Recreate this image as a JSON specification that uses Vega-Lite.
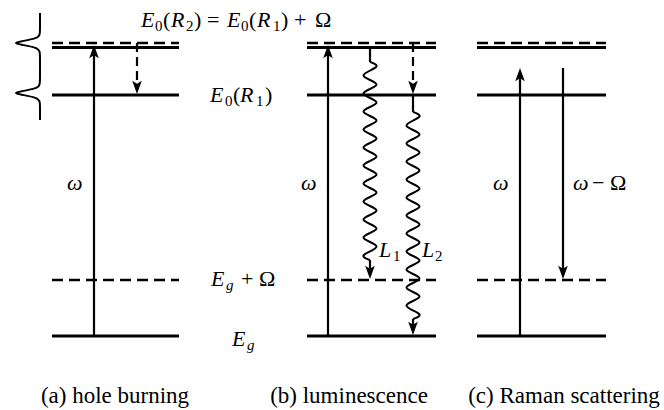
{
  "$schema": "https://vega.github.io/schema/vega-lite/v6.json",
  "width": 664,
  "height": 410,
  "autosize": {"type": "fit", "contains": "padding"},
  "padding": 0,
  "background": "white",
  "config": {"view": {"stroke": null}},
  "datasets": {
    "segments": [
      {"kind": "lvl", "x1": 52, "x2": 179, "y1": 47.5, "y2": 47.5},
      {"kind": "lvl", "x1": 52, "x2": 179, "y1": 95, "y2": 95},
      {"kind": "lvl", "x1": 52, "x2": 179, "y1": 336, "y2": 336},
      {"kind": "lvl", "x1": 307, "x2": 436, "y1": 47.5, "y2": 47.5},
      {"kind": "lvl", "x1": 307, "x2": 436, "y1": 95, "y2": 95},
      {"kind": "lvl", "x1": 307, "x2": 436, "y1": 336, "y2": 336},
      {"kind": "lvl", "x1": 477, "x2": 606, "y1": 47.5, "y2": 47.5},
      {"kind": "lvl", "x1": 477, "x2": 606, "y1": 95, "y2": 95},
      {"kind": "lvl", "x1": 477, "x2": 606, "y1": 336, "y2": 336},
      {"kind": "dlvl", "x1": 52, "x2": 179, "y1": 43, "y2": 43},
      {"kind": "dlvl", "x1": 52, "x2": 179, "y1": 280, "y2": 280},
      {"kind": "dlvl", "x1": 307, "x2": 436, "y1": 43, "y2": 43},
      {"kind": "dlvl", "x1": 307, "x2": 436, "y1": 280, "y2": 280},
      {"kind": "dlvl", "x1": 477, "x2": 606, "y1": 43, "y2": 43},
      {"kind": "dlvl", "x1": 477, "x2": 606, "y1": 280, "y2": 280},
      {"kind": "arr", "x1": 94, "x2": 94, "y1": 336, "y2": 55},
      {"kind": "arr", "x1": 328, "x2": 328, "y1": 336, "y2": 55},
      {"kind": "arr", "x1": 520, "x2": 520, "y1": 336, "y2": 78},
      {"kind": "arr", "x1": 563, "x2": 563, "y1": 68, "y2": 269},
      {"kind": "arr", "x1": 370, "x2": 370, "y1": 47.5, "y2": 62},
      {"kind": "arr", "x1": 370, "x2": 370, "y1": 260, "y2": 269},
      {"kind": "arr", "x1": 413, "x2": 413, "y1": 95, "y2": 112},
      {"kind": "arr", "x1": 413, "x2": 413, "y1": 319, "y2": 325},
      {"kind": "darr", "x1": 137, "x2": 137, "y1": 43, "y2": 84},
      {"kind": "darr", "x1": 413, "x2": 413, "y1": 43, "y2": 84}
    ],
    "heads": [
      {"dir": "up", "x": 94, "y": 45},
      {"dir": "up", "x": 328, "y": 45},
      {"dir": "up", "x": 520, "y": 68},
      {"dir": "down", "x": 563, "y": 279},
      {"dir": "down", "x": 370, "y": 279},
      {"dir": "down", "x": 413, "y": 335},
      {"dir": "down", "x": 137, "y": 94},
      {"dir": "down", "x": 413, "y": 94}
    ],
    "waves": [
      {"id": "L1", "o": 0, "x": 370, "y": 62},
      {"id": "L1", "o": 1, "x": 376.5, "y": 66.5},
      {"id": "L1", "o": 2, "x": 363.5, "y": 75.5},
      {"id": "L1", "o": 3, "x": 376.5, "y": 84.5},
      {"id": "L1", "o": 4, "x": 363.5, "y": 93.5},
      {"id": "L1", "o": 5, "x": 376.5, "y": 102.5},
      {"id": "L1", "o": 6, "x": 363.5, "y": 111.5},
      {"id": "L1", "o": 7, "x": 376.5, "y": 120.5},
      {"id": "L1", "o": 8, "x": 363.5, "y": 129.5},
      {"id": "L1", "o": 9, "x": 376.5, "y": 138.5},
      {"id": "L1", "o": 10, "x": 363.5, "y": 147.5},
      {"id": "L1", "o": 11, "x": 376.5, "y": 156.5},
      {"id": "L1", "o": 12, "x": 363.5, "y": 165.5},
      {"id": "L1", "o": 13, "x": 376.5, "y": 174.5},
      {"id": "L1", "o": 14, "x": 363.5, "y": 183.5},
      {"id": "L1", "o": 15, "x": 376.5, "y": 192.5},
      {"id": "L1", "o": 16, "x": 363.5, "y": 201.5},
      {"id": "L1", "o": 17, "x": 376.5, "y": 210.5},
      {"id": "L1", "o": 18, "x": 363.5, "y": 219.5},
      {"id": "L1", "o": 19, "x": 376.5, "y": 228.5},
      {"id": "L1", "o": 20, "x": 363.5, "y": 237.5},
      {"id": "L1", "o": 21, "x": 376.5, "y": 246.5},
      {"id": "L1", "o": 22, "x": 363.5, "y": 255.5},
      {"id": "L1", "o": 23, "x": 370, "y": 260},
      {"id": "L2", "o": 0, "x": 413, "y": 112},
      {"id": "L2", "o": 1, "x": 419.5, "y": 116.5},
      {"id": "L2", "o": 2, "x": 406.5, "y": 125.5},
      {"id": "L2", "o": 3, "x": 419.5, "y": 134.5},
      {"id": "L2", "o": 4, "x": 406.5, "y": 143.5},
      {"id": "L2", "o": 5, "x": 419.5, "y": 152.5},
      {"id": "L2", "o": 6, "x": 406.5, "y": 161.5},
      {"id": "L2", "o": 7, "x": 419.5, "y": 170.5},
      {"id": "L2", "o": 8, "x": 406.5, "y": 179.5},
      {"id": "L2", "o": 9, "x": 419.5, "y": 188.5},
      {"id": "L2", "o": 10, "x": 406.5, "y": 197.5},
      {"id": "L2", "o": 11, "x": 419.5, "y": 206.5},
      {"id": "L2", "o": 12, "x": 406.5, "y": 215.5},
      {"id": "L2", "o": 13, "x": 419.5, "y": 224.5},
      {"id": "L2", "o": 14, "x": 406.5, "y": 233.5},
      {"id": "L2", "o": 15, "x": 419.5, "y": 242.5},
      {"id": "L2", "o": 16, "x": 406.5, "y": 251.5},
      {"id": "L2", "o": 17, "x": 419.5, "y": 260.5},
      {"id": "L2", "o": 18, "x": 406.5, "y": 269.5},
      {"id": "L2", "o": 19, "x": 419.5, "y": 278.5},
      {"id": "L2", "o": 20, "x": 406.5, "y": 287.5},
      {"id": "L2", "o": 21, "x": 419.5, "y": 296.5},
      {"id": "L2", "o": 22, "x": 406.5, "y": 305.5},
      {"id": "L2", "o": 23, "x": 419.5, "y": 314.5},
      {"id": "L2", "o": 24, "x": 413, "y": 319}
    ],
    "bracket": [
      {"o": 0, "x": 40, "y": 13},
      {"o": 1, "x": 40, "y": 28},
      {"o": 2, "x": 40, "y": 35},
      {"o": 3, "x": 37, "y": 38.5},
      {"o": 4, "x": 20, "y": 41.5},
      {"o": 5, "x": 14, "y": 43},
      {"o": 6, "x": 20, "y": 44.5},
      {"o": 7, "x": 37, "y": 47.5},
      {"o": 8, "x": 40, "y": 51},
      {"o": 9, "x": 40, "y": 58},
      {"o": 10, "x": 40, "y": 78},
      {"o": 11, "x": 40, "y": 85},
      {"o": 12, "x": 37, "y": 88.5},
      {"o": 13, "x": 20, "y": 91.5},
      {"o": 14, "x": 14, "y": 93},
      {"o": 15, "x": 20, "y": 94.5},
      {"o": 16, "x": 37, "y": 97.5},
      {"o": 17, "x": 40, "y": 101},
      {"o": 18, "x": 40, "y": 108},
      {"o": 19, "x": 40, "y": 120}
    ],
    "italic": [
      {"t": "E", "x": 141, "y": 27, "s": 22},
      {"t": "R", "x": 171, "y": 27, "s": 22},
      {"t": "E", "x": 227, "y": 27, "s": 22},
      {"t": "R", "x": 257, "y": 27, "s": 22},
      {"t": "E", "x": 210, "y": 102, "s": 22},
      {"t": "R", "x": 240, "y": 102, "s": 22},
      {"t": "E", "x": 211, "y": 286, "s": 22},
      {"t": "g", "x": 226, "y": 290, "s": 15},
      {"t": "E", "x": 232, "y": 346, "s": 22},
      {"t": "g", "x": 247, "y": 350, "s": 15},
      {"t": "ω", "x": 67, "y": 190, "s": 22},
      {"t": "ω", "x": 301, "y": 190, "s": 22},
      {"t": "ω", "x": 493, "y": 190, "s": 22},
      {"t": "ω", "x": 573, "y": 190, "s": 22},
      {"t": "L", "x": 379, "y": 257, "s": 22},
      {"t": "L", "x": 422, "y": 257, "s": 22}
    ],
    "roman": [
      {"t": "0", "x": 155, "y": 31, "s": 15},
      {"t": "(", "x": 163, "y": 27, "s": 22},
      {"t": "2", "x": 186, "y": 31, "s": 15},
      {"t": ")", "x": 194, "y": 27, "s": 22},
      {"t": "=", "x": 207, "y": 27, "s": 22},
      {"t": "0", "x": 241, "y": 31, "s": 15},
      {"t": "(", "x": 249, "y": 27, "s": 22},
      {"t": "1", "x": 273, "y": 31, "s": 15},
      {"t": ")", "x": 281, "y": 27, "s": 22},
      {"t": "+", "x": 294, "y": 27, "s": 22},
      {"t": "Ω", "x": 315, "y": 27, "s": 22},
      {"t": "0", "x": 225, "y": 106, "s": 15},
      {"t": "(", "x": 233, "y": 102, "s": 22},
      {"t": "1", "x": 256, "y": 106, "s": 15},
      {"t": ")", "x": 265, "y": 102, "s": 22},
      {"t": "+", "x": 241, "y": 286, "s": 22},
      {"t": "Ω", "x": 259, "y": 286, "s": 22},
      {"t": "−", "x": 592, "y": 190, "s": 22},
      {"t": "Ω", "x": 610, "y": 190, "s": 22},
      {"t": "1", "x": 393, "y": 261, "s": 15},
      {"t": "2", "x": 435, "y": 261, "s": 15}
    ],
    "captions": [
      {"t": "(a) hole burning", "x": 115, "y": 403},
      {"t": "(b) luminescence", "x": 349, "y": 403},
      {"t": "(c) Raman scattering", "x": 564, "y": 403}
    ]
  },
  "layer": [
    {
      "data": {"name": "segments"},
      "transform": [{"filter": "datum.kind === 'lvl'"}],
      "mark": {"type": "rule", "strokeWidth": 2.8, "color": "black", "strokeCap": "butt"},
      "encoding": {
        "x": {"field": "x1", "type": "quantitative", "scale": {"domain": [0, 664], "nice": false, "zero": false}, "axis": null},
        "x2": {"field": "x2"},
        "y": {"field": "y1", "type": "quantitative", "scale": {"domain": [0, 410], "nice": false, "zero": false, "reverse": true}, "axis": null},
        "y2": {"field": "y2"}
      }
    },
    {
      "data": {"name": "segments"},
      "transform": [{"filter": "datum.kind === 'dlvl'"}],
      "mark": {"type": "rule", "strokeWidth": 2.6, "color": "black", "strokeCap": "butt", "strokeDash": [11, 6]},
      "encoding": {
        "x": {"field": "x1", "type": "quantitative", "scale": {"domain": [0, 664], "nice": false, "zero": false}, "axis": null},
        "x2": {"field": "x2"},
        "y": {"field": "y1", "type": "quantitative", "scale": {"domain": [0, 410], "nice": false, "zero": false, "reverse": true}, "axis": null},
        "y2": {"field": "y2"}
      }
    },
    {
      "data": {"name": "segments"},
      "transform": [{"filter": "datum.kind === 'arr'"}],
      "mark": {"type": "rule", "strokeWidth": 2.2, "color": "black", "strokeCap": "butt"},
      "encoding": {
        "x": {"field": "x1", "type": "quantitative", "scale": {"domain": [0, 664], "nice": false, "zero": false}, "axis": null},
        "x2": {"field": "x2"},
        "y": {"field": "y1", "type": "quantitative", "scale": {"domain": [0, 410], "nice": false, "zero": false, "reverse": true}, "axis": null},
        "y2": {"field": "y2"}
      }
    },
    {
      "data": {"name": "segments"},
      "transform": [{"filter": "datum.kind === 'darr'"}],
      "mark": {"type": "rule", "strokeWidth": 2.2, "color": "black", "strokeCap": "butt", "strokeDash": [9, 5]},
      "encoding": {
        "x": {"field": "x1", "type": "quantitative", "scale": {"domain": [0, 664], "nice": false, "zero": false}, "axis": null},
        "x2": {"field": "x2"},
        "y": {"field": "y1", "type": "quantitative", "scale": {"domain": [0, 410], "nice": false, "zero": false, "reverse": true}, "axis": null},
        "y2": {"field": "y2"}
      }
    },
    {
      "data": {"name": "waves"},
      "mark": {"type": "line", "interpolate": "cardinal", "strokeWidth": 2, "color": "black"},
      "encoding": {
        "x": {"field": "x", "type": "quantitative", "scale": {"domain": [0, 664], "nice": false, "zero": false}, "axis": null},
        "y": {"field": "y", "type": "quantitative", "scale": {"domain": [0, 410], "nice": false, "zero": false, "reverse": true}, "axis": null},
        "detail": {"field": "id"},
        "order": {"field": "o", "type": "quantitative"}
      }
    },
    {
      "data": {"name": "bracket"},
      "mark": {"type": "line", "interpolate": "basis", "strokeWidth": 2, "color": "black"},
      "encoding": {
        "x": {"field": "x", "type": "quantitative", "scale": {"domain": [0, 664], "nice": false, "zero": false}, "axis": null},
        "y": {"field": "y", "type": "quantitative", "scale": {"domain": [0, 410], "nice": false, "zero": false, "reverse": true}, "axis": null},
        "order": {"field": "o", "type": "quantitative"}
      }
    },
    {
      "data": {"name": "heads"},
      "transform": [{"filter": "datum.dir === 'up'"}],
      "mark": {"type": "point", "filled": true, "color": "black", "opacity": 1, "size": 144, "shape": "M0,0 L0.8,2.2 L0,1.7 L-0.8,2.2 Z"},
      "encoding": {
        "x": {"field": "x", "type": "quantitative", "scale": {"domain": [0, 664], "nice": false, "zero": false}, "axis": null},
        "y": {"field": "y", "type": "quantitative", "scale": {"domain": [0, 410], "nice": false, "zero": false, "reverse": true}, "axis": null}
      }
    },
    {
      "data": {"name": "heads"},
      "transform": [{"filter": "datum.dir === 'down'"}],
      "mark": {"type": "point", "filled": true, "color": "black", "opacity": 1, "size": 144, "shape": "M0,0 L0.8,-2.2 L0,-1.7 L-0.8,-2.2 Z"},
      "encoding": {
        "x": {"field": "x", "type": "quantitative", "scale": {"domain": [0, 664], "nice": false, "zero": false}, "axis": null},
        "y": {"field": "y", "type": "quantitative", "scale": {"domain": [0, 410], "nice": false, "zero": false, "reverse": true}, "axis": null}
      }
    },
    {
      "data": {"name": "italic"},
      "mark": {"type": "text", "font": "'Liberation Serif'", "fontStyle": "italic", "align": "left", "baseline": "alphabetic", "color": "black"},
      "encoding": {
        "x": {"field": "x", "type": "quantitative", "scale": {"domain": [0, 664], "nice": false, "zero": false}, "axis": null},
        "y": {"field": "y", "type": "quantitative", "scale": {"domain": [0, 410], "nice": false, "zero": false, "reverse": true}, "axis": null},
        "text": {"field": "t"},
        "size": {"field": "s", "type": "quantitative", "scale": null, "legend": null}
      }
    },
    {
      "data": {"name": "roman"},
      "mark": {"type": "text", "font": "'Liberation Serif'", "align": "left", "baseline": "alphabetic", "color": "black"},
      "encoding": {
        "x": {"field": "x", "type": "quantitative", "scale": {"domain": [0, 664], "nice": false, "zero": false}, "axis": null},
        "y": {"field": "y", "type": "quantitative", "scale": {"domain": [0, 410], "nice": false, "zero": false, "reverse": true}, "axis": null},
        "text": {"field": "t"},
        "size": {"field": "s", "type": "quantitative", "scale": null, "legend": null}
      }
    },
    {
      "data": {"name": "captions"},
      "mark": {"type": "text", "font": "'Liberation Serif'", "fontSize": 23, "align": "center", "baseline": "alphabetic", "color": "black"},
      "encoding": {
        "x": {"field": "x", "type": "quantitative", "scale": {"domain": [0, 664], "nice": false, "zero": false}, "axis": null},
        "y": {"field": "y", "type": "quantitative", "scale": {"domain": [0, 410], "nice": false, "zero": false, "reverse": true}, "axis": null},
        "text": {"field": "t"}
      }
    }
  ]
}
